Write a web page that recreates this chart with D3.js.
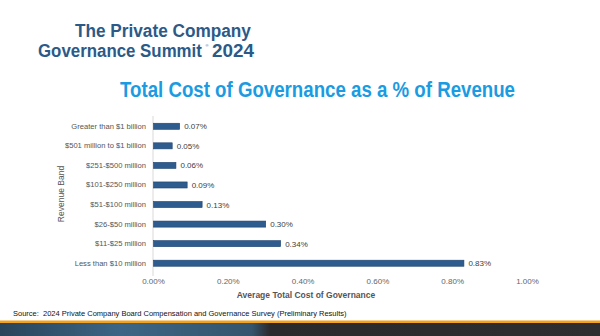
<!DOCTYPE html>
<html><head><meta charset="utf-8">
<script src="https://cdn.jsdelivr.net/npm/d3@7"></script>
<style>html,body{margin:0;padding:0;background:#fff;}svg{display:block;font-family:"Liberation Sans",Arial,sans-serif;}</style>
</head><body>
<script>
const categories = ["Greater than $1 billion","$501 million to $1 billion","$251-$500 million","$101-$250 million","$51-$100 million","$26-$50 million","$11-$25 million","Less than $10 million"];
const values = [0.07,0.05,0.06,0.09,0.13,0.30,0.34,0.83];
const tickValues = [0,0.2,0.4,0.6,0.8,1.0];
const tickLabels = ["0.00%","0.20%","0.40%","0.60%","0.80%","1.00%"];

const W=600,H=336;
const svg=d3.select("body").append("svg").attr("width",W).attr("height",H);
const defs=svg.append("defs");
const g1=defs.append("linearGradient").attr("id","strip").attr("x1",0).attr("x2",1).attr("y1",0).attr("y2",0);
g1.append("stop").attr("offset","0%").attr("stop-color","#28445a");
g1.append("stop").attr("offset","20%").attr("stop-color","#3c6585");
g1.append("stop").attr("offset","42%").attr("stop-color","#34556d");
g1.append("stop").attr("offset","45%").attr("stop-color","#2a2a2c");
g1.append("stop").attr("offset","100%").attr("stop-color","#2e2e30");

// header (horizontally condensed to mimic the narrow brand font)
const hc="#2b5a88";
function headerText(str, x0, y0, targetW, fs){
  const g=svg.append("g").attr("transform",`translate(${x0},${y0})`);
  const t=g.append("text").attr("x",0).attr("y",0).attr("font-size",fs).attr("font-weight","bold").attr("fill",hc).text(str);
  const w=t.node().getComputedTextLength();
  g.attr("transform",`translate(${x0},${y0}) scale(${targetW/w},1)`);
  return g;
}
headerText("The Private Company",75,37,176,19);
headerText("Governance Summit",38,57,164,19);
svg.append("text").attr("x",205.5).attr("y",46.5).attr("font-size",4).attr("fill",hc).text("®");
headerText("2024",212,57,42,19);

// title
svg.append("text").attr("x",120).attr("y",97).attr("textLength",395).attr("lengthAdjust","spacingAndGlyphs")
  .attr("font-size",22).attr("font-weight","bold").attr("fill","#1a9be2").text("Total Cost of Governance as a % of Revenue");

const x=d3.scaleLinear().domain([0,1.0]).range([153,527]);
const y=d3.scaleBand().domain(categories).range([116.5,273]).paddingInner(0.69).paddingOuter(0.345);

// axis line
svg.append("line").attr("x1",x(0)).attr("x2",x(0)).attr("y1",116).attr("y2",276).attr("stroke","#d9d9d9").attr("stroke-width",1);

svg.selectAll("rect.bar").data(values).enter().append("rect").attr("class","bar")
  .attr("x",x(0)+0.5).attr("y",(d,i)=>y(categories[i]))
  .attr("width",d=>x(d)-x(0)).attr("height",y.bandwidth())
  .attr("fill","#2f5c8e").attr("stroke","#1f4470").attr("stroke-width",0.6);

svg.selectAll("text.val").data(values).enter().append("text").attr("class","val")
  .attr("x",d=>x(d)+5).attr("y",(d,i)=>y(categories[i])+y.bandwidth()/2+3)
  .attr("font-size",8).attr("fill","#404040").text(d=>d.toFixed(2)+"%");

const yAxis=d3.axisLeft(y).tickSize(0).tickPadding(7);
const ya=svg.append("g").attr("transform",`translate(${x(0)},0)`).call(yAxis);
ya.select(".domain").remove();
ya.selectAll("text").attr("font-size",7.6).attr("fill","#555").attr("font-family","Liberation Sans, Arial, sans-serif");

const xAxis=d3.axisBottom(x).tickValues(tickValues).tickFormat((d,i)=>tickLabels[i]).tickSize(0).tickPadding(0);
const xa=svg.append("g").attr("transform","translate(0,278)").call(xAxis);
xa.select(".domain").remove();
xa.selectAll("text").attr("font-size",8).attr("fill","#666").attr("dy","0.71em").attr("font-family","Liberation Sans, Arial, sans-serif");

svg.append("text").attr("x",306).attr("y",298).attr("text-anchor","middle").attr("font-size",8.5).attr("font-weight","bold").attr("fill","#555").text("Average Total Cost of Governance");
svg.append("text").attr("transform","translate(64,194) rotate(-90)").attr("text-anchor","middle").attr("font-size",8.5).attr("fill","#555").text("Revenue Band");

svg.append("text").attr("x",13).attr("y",316).attr("font-size",7.5).attr("fill","#111").attr("xml:space","preserve").text("Source:  2024 Private Company Board Compensation and Governance Survey (Preliminary Results)");

// bottom strip
svg.append("rect").attr("x",0).attr("y",323).attr("width",W).attr("height",13).attr("fill","url(#strip)");
svg.append("rect").attr("x",0).attr("y",320.5).attr("width",W).attr("height",2.5).attr("fill","#f2a21d");
</script>
</body></html>
